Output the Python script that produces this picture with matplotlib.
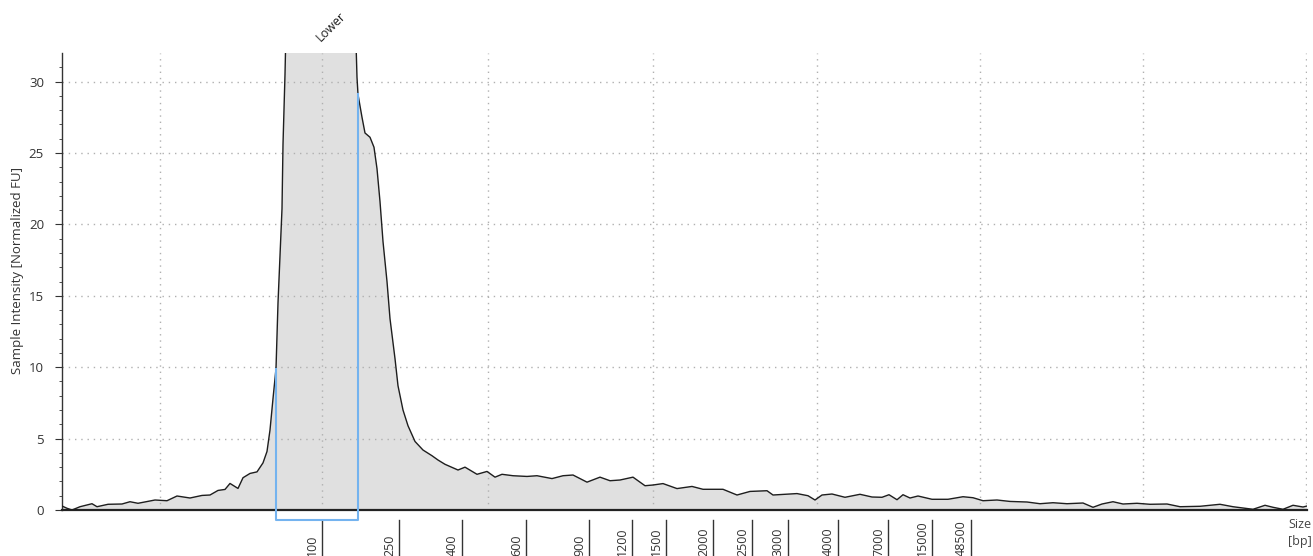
import numpy as np
import matplotlib
matplotlib.use("Agg")
import matplotlib.pyplot as plt
import matplotlib.transforms as mtransforms

plt.rcParams['font.family'] = ['Open Sans', 'DejaVu Sans']

# DATA
# run position (arbitrary units along the lane) and normalized intensity
position = [0, 5, 10, 18, 30, 35, 46, 60, 68, 76,
            93, 105, 115, 128, 140, 148, 156, 163, 168, 176,
            181, 188, 195, 201, 205, 208, 211, 214, 216, 220,
            221, 223, 226, 260, 291, 295, 296, 300, 303, 308,
            312, 315, 318, 321, 325, 328, 333, 336, 341, 346,
            353, 361, 370, 376, 383, 396, 403, 415, 425, 433,
            440, 451, 465, 475, 490, 501, 511, 518, 525, 538,
            548, 558, 571, 583, 591, 601, 615, 630, 641, 661,
            675, 688, 705, 711, 735, 746, 753, 760, 770, 783,
            798, 810, 820, 827, 835, 841, 848, 856, 870, 886,
            901, 911, 921, 935, 948, 965, 978, 991, 1005, 1021,
            1031, 1040, 1051, 1061, 1075, 1088, 1105, 1118, 1138, 1158,
            1171, 1191, 1203, 1211, 1221, 1231, 1241, 1245]
intensity = [0.28, 0.12, 0.0, 0.23, 0.44, 0.23, 0.40, 0.42, 0.58, 0.47,
             0.70, 0.65, 0.98, 0.84, 1.02, 1.05, 1.37, 1.44, 1.86, 1.51,
             2.26, 2.56, 2.67, 3.30, 4.10, 5.6, 7.8, 9.9, 14.5, 21.1,
             25.6, 30.5, 40, 60, 40, 30.3, 29.1, 27.5, 26.4, 26.1,
             25.4, 23.9, 21.6, 18.8, 16.0, 13.4, 10.6, 8.7, 7.0, 5.9,
             4.8, 4.2, 3.8, 3.5, 3.2, 2.8, 3.0, 2.5, 2.7, 2.3,
             2.5, 2.4, 2.35, 2.4, 2.2, 2.4, 2.45, 2.2, 1.95, 2.3,
             2.05, 2.1, 2.3, 1.7, 1.75, 1.85, 1.5, 1.65, 1.45, 1.45,
             1.05, 1.3, 1.35, 1.05, 1.15, 1.0, 0.7, 1.05, 1.12, 0.89,
             1.1, 0.91, 0.89, 1.07, 0.72, 1.07, 0.84, 0.98, 0.75, 0.75,
             0.93, 0.86, 0.65, 0.70, 0.60, 0.56, 0.44, 0.51, 0.44, 0.49,
             0.19, 0.42, 0.58, 0.42, 0.47, 0.40, 0.42, 0.23, 0.26, 0.40,
             0.23, 0.05, 0.33, 0.19, 0.05, 0.33, 0.21, 0.28]

# ladder sizes and where they sit on the run
size_labels = ['100', '250', '400', '600', '900', '1200', '1500', '2000',
               '2500', '3000', '4000', '7000', '15000', '48500']
size_pos = [260, 337, 400, 464, 527, 570, 604, 651, 690, 726, 776, 826, 870, 909]

grid_pos = [98, 260, 426, 591, 755, 918, 1081, 1244]
marker_name = 'Lower'
marker_pos = 260
region = (214, 296)

# FIGURE
fig = plt.figure(figsize=(13.13, 5.56), dpi=100)
ax = fig.add_axes([62/1313, 46/556, 1245/1313, 457/556])

x = np.array(position, dtype=float)
y = np.array(intensity, dtype=float)
ax.fill_between(x, 0, y, color='#e0e0e0', zorder=1, linewidth=0)
ax.plot(x, y, color='#1e1e1e', lw=1.0, zorder=3)

ax.set_xlim(0, 1245)
ax.set_ylim(0, 32)

# grid drawn over the fill
for gx in grid_pos:
    ax.axvline(gx, color='#b0b0b0', lw=1, ls=(0, (1, 3.5)), zorder=2)
for gy in range(5, 31, 5):
    ax.axhline(gy, color='#b0b0b0', lw=1, ls=(0, (1, 3.5)), zorder=2)

# smear region box
ya = np.interp(region[0], x, y)
yb = np.interp(region[1], x, y)
ax.plot([region[0], region[0], region[1], region[1]], [ya, -0.7, -0.7, yb],
        color='#74b3ef', lw=1.5, clip_on=False, zorder=4)

# axes look
for s in ['top', 'right']:
    ax.spines[s].set_visible(False)
ax.spines['left'].set_color('#333333')
ax.spines['left'].set_linewidth(1.0)
ax.spines['bottom'].set_color('#222222')
ax.spines['bottom'].set_linewidth(1.6)
ax.set_xticks([])
ax.set_yticks(range(0, 31, 5))
ax.set_yticks(range(0, 32), minor=True)
ax.tick_params(axis='y', which='major', length=5, color='#333333',
               labelsize=9.5, labelcolor='#333333', pad=8)
ax.tick_params(axis='y', which='minor', length=2.5, color='#333333')

fig.text(18/1313, 1 - 270/556, 'Sample Intensity [Normalized FU]', rotation=90,
         ha='center', va='center', fontsize=9.5, color='#333333')

# size ladder under the axis
trans = mtransforms.blended_transform_factory(ax.transData, ax.transAxes)
for lab, p in zip(size_labels, size_pos):
    ax.plot([p, p], [-0.022, -0.11], color='#333333', lw=1.0,
            transform=trans, clip_on=False)
    ax.text(p - 3, -0.101, lab, rotation=90, rotation_mode='anchor',
            ha='left', va='bottom', fontsize=9, color='#333333',
            transform=trans, clip_on=False)

fig.text(1288/1313, 1 - 525/556, 'Size', ha='left', va='center',
         fontsize=9, color='#444444')
fig.text(1288/1313, 1 - 541/556, '[bp]', ha='left', va='center',
         fontsize=9, color='#444444')

# peak marker label
ax.text(marker_pos + 1, 1.02, marker_name, rotation=45, rotation_mode='anchor',
        ha='left', va='bottom', fontsize=9, color='#222222',
        transform=trans, clip_on=False)

fig.savefig('out.png', dpi=100)
